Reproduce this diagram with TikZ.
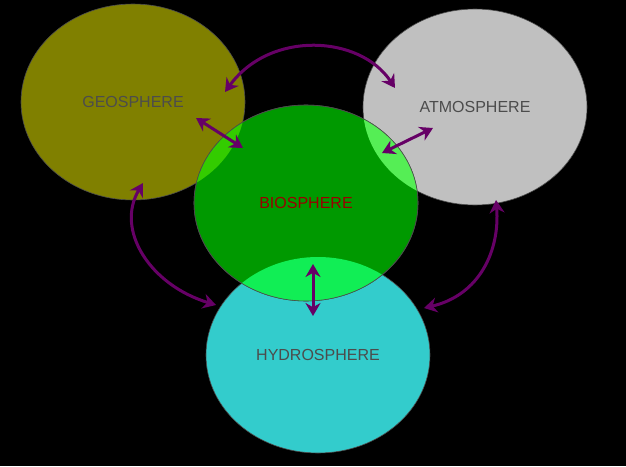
\documentclass[tikz,border=0pt]{standalone}
\usepackage{fontspec}
\setmainfont{Liberation Sans}
\usetikzlibrary{arrows.meta}
\definecolor{geo}{HTML}{808000}
\definecolor{atm}{HTML}{C0C0C0}
\definecolor{bio}{HTML}{009900}
\definecolor{hyd}{HTML}{33CCCC}
\definecolor{arr}{HTML}{660066}
\definecolor{gb}{HTML}{33CC00}
\definecolor{ab}{HTML}{55EE55}
\definecolor{hb}{HTML}{11EE55}
\definecolor{biotext}{HTML}{990000}
\tikzset{
  sph/.style={draw=black!70,line width=0.6pt},
  lab/.style={font=\fontsize{16}{18}\selectfont,text=black!70},
  link/.style={draw=arr,line width=3pt,{Stealth[length=13pt,width=15pt]}-{Stealth[length=13pt,width=15pt]}}
}
\begin{document}
\begin{tikzpicture}[x=1pt,y=-1pt]
\fill[black] (0,0) rectangle (626,466);
\useasboundingbox (0,0) rectangle (626,466);
\path[sph,fill=geo] (133,102) ellipse [x radius=112,y radius=98];
\path[sph,fill=atm] (475,107) ellipse [x radius=112,y radius=98];
\path[sph,fill=hyd] (318,355) ellipse [x radius=112,y radius=98];
\path[sph,fill=bio] (306,203) ellipse [x radius=112,y radius=98];
\begin{scope}
\clip (306,203) ellipse [x radius=112,y radius=98];
\fill[gb] (133,102) ellipse [x radius=112,y radius=98];
\fill[ab] (475,107) ellipse [x radius=112,y radius=98];
\fill[hb] (318,355) ellipse [x radius=112,y radius=98];
\end{scope}
\draw[black!70,line width=0.6pt] (306,203) ellipse [x radius=112,y radius=98];
\node[lab] (g) at (133,102) {GEOSPHERE};
\node[lab] (a) at (475,107) {ATMOSPHERE};
\node[lab,text=biotext] (b) at (306,203) {BIOSPHERE};
\node[lab] (h) at (318,355) {HYDROSPHERE};
\coordinate (ga1) at (225,92); \coordinate (ga2) at (395,88);
\coordinate (gb1) at (196,118); \coordinate (gb2) at (243,148);
\coordinate (ab1) at (433,128); \coordinate (ab2) at (382,153);
\coordinate (bh1) at (313,264); \coordinate (bh2) at (313,316);
\coordinate (gh1) at (143,183); \coordinate (gh2) at (216,305);
\coordinate (ah1) at (496,200); \coordinate (ah2) at (424,308);
\draw[link] (ga1) .. controls (270,30) and (360,35) .. (ga2);
\draw[link] (gb1) -- (gb2);
\draw[link] (ab1) -- (ab2);
\draw[link] (bh1) -- (bh2);
\draw[link] (gh1) .. controls (115,230) and (150,285) .. (gh2);
\draw[link] (ah1) .. controls (500,250) and (480,295) .. (ah2);
\end{tikzpicture}
\end{document}
